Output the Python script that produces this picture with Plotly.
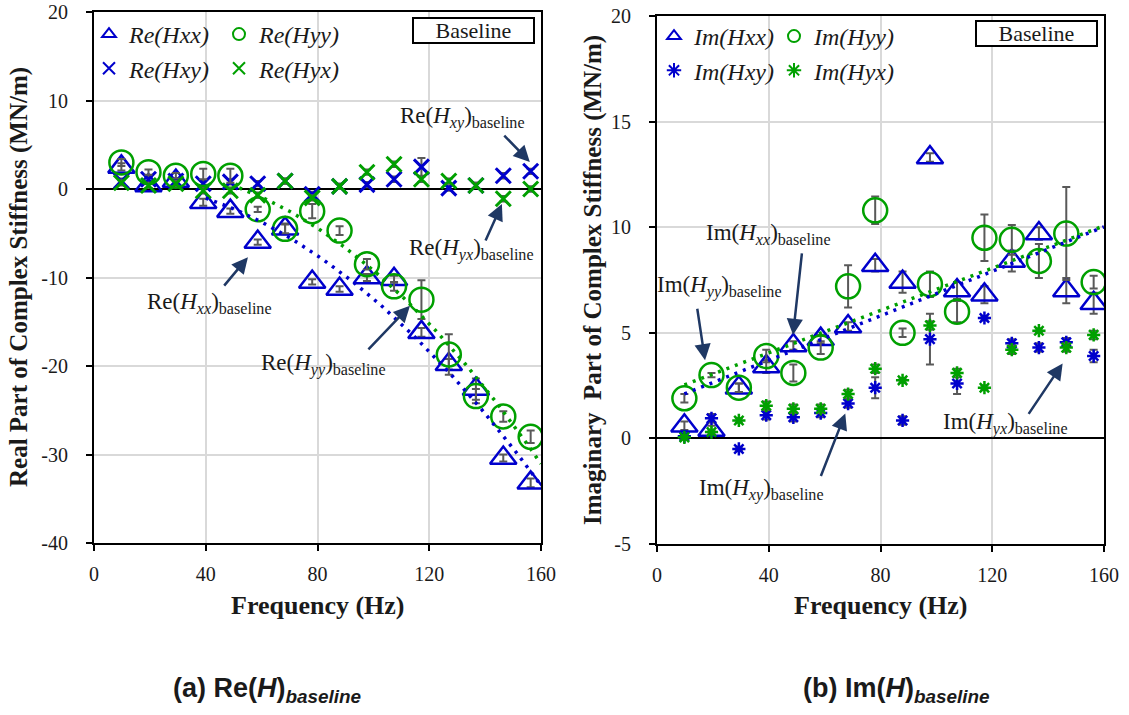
import numpy as np
import plotly.graph_objects as go

# ---------------- data ----------------
freq = [9.8, 19.5, 29.3, 39.1, 48.8, 58.6, 68.4, 78.1, 87.9, 97.7, 107.4, 117.2, 127.0, 136.7, 146.5, 156.3]

re_hxx = [2.5, 0.4, 0.9, -1.5, -2.5, -6.0, -4.5, -10.5, -11.3, -10.0, -10.2, -16.2, -19.8, -22.6, -30.4, -33.2]
re_hyy = [3.0, 1.9, 1.5, 1.7, 1.5, -2.3, -4.5, -2.5, -4.7, -8.5, -11.0, -12.5, -18.7, -23.4, -25.7, -28.0]
re_hxy = [0.9, 1.1, 0.9, 0.6, 0.8, 0.6, 0.9, -0.6, 0.3, 0.5, 1.1, 2.5, 0.1, 0.4, 1.5, 2.0]
re_hyx = [0.7, 0.4, 0.6, -0.2, -0.2, -0.7, 0.9, -1.0, 0.3, 1.9, 2.8, 1.1, 0.9, 0.4, -1.1, 0.0]

re_hxx_err = [0.4, 0.3, 0.3, 0.4, 0.3, 0.3, 0.6, 0.3, 0.3, 0.4, 0.4, 0.5, 0.6, 1.2, 0.4, 0.5]
re_hyy_err = [0.4, 0.3, 0.3, 0.6, 0.8, 0.3, 0.5, 0.8, 0.5, 0.6, 0.5, 2.2, 2.3, 0.8, 0.6, 0.7]
re_hxy_err = [0.3, 0.3, 0.3, 0.3, 0.3, 0.3, 0.3, 0.3, 0.3, 0.3, 0.3, 1.0, 0.3, 0.3, 0.3, 0.3]
re_hyx_err = [0.3, 0.3, 0.3, 0.3, 0.3, 0.3, 0.3, 0.3, 0.3, 0.3, 0.3, 0.3, 0.3, 0.3, 0.3, 0.3]

im_hxx = [0.6, 0.4, 2.4, 3.4, 4.4, 4.7, 5.3, 8.2, 7.4, 13.3, 7.0, 6.8, 8.4, 9.7, 7.0, 6.4]
im_hyy = [1.9, 3.0, 2.4, 3.9, 3.1, 4.3, 7.2, 10.8, 5.0, 7.3, 6.0, 9.5, 9.4, 8.4, 9.7, 7.4]
im_hxy = [0.1, 0.95, -0.5, 1.1, 1.0, 1.2, 1.65, 2.4, 0.85, 4.7, 2.6, 5.7, 4.5, 4.3, 4.55, 3.9]
im_hyx = [0.05, 0.3, 0.85, 1.55, 1.4, 1.4, 2.1, 3.3, 2.75, 5.35, 3.1, 2.4, 4.2, 5.1, 4.3, 4.9]

im_hxx_err = [0.2, 0.2, 0.2, 0.3, 0.2, 0.2, 0.2, 0.3, 0.5, 0.2, 0.4, 0.4, 0.5, 0.3, 0.6, 0.5]
im_hyy_err = [0.2, 0.1, 0.2, 0.3, 0.4, 0.3, 1.0, 0.65, 0.2, 0.6, 0.5, 1.1, 0.7, 0.8, 2.2, 0.3]
im_hxy_err = [0.1, 0.2, 0.1, 0.2, 0.2, 0.2, 0.2, 0.5, 0.2, 1.2, 0.5, 0.1, 0.2, 0.2, 0.2, 0.3]
im_hyx_err = [0.1, 0.1, 0.1, 0.2, 0.2, 0.2, 0.2, 0.2, 0.1, 0.2, 0.2, 0.1, 0.2, 0.1, 0.2, 0.2]

x_ticks = [0, 40, 80, 120, 160]
re_y_ticks = [-40, -30, -20, -10, 0, 10, 20]
im_y_ticks = [-5, 0, 5, 10, 15, 20]

# ---------------- style ----------------
BLUE = "#0000CC"
GREEN = "#00A000"
GREY = "#595959"
NAVY = "#1F3864"
SERIF = "Liberation Serif, Times New Roman, serif"
SANS = "Liberation Sans, Arial, sans-serif"

fig = go.Figure()


def series(x, y, err, name, symbol, size, color, xa, ya, legend, lw=2.5):
    fig.add_trace(go.Scatter(
        x=x, y=y, mode="markers", name=name, legend=legend,
        xaxis=xa, yaxis=ya,
        marker=dict(symbol=symbol, size=size, color=color,
                    line=dict(color=color, width=lw)),
        error_y=dict(type="data", array=err, visible=True,
                     color=GREY, thickness=2, width=4),
    ))


# left panel
series(freq, re_hxx, re_hxx_err, "<i>Re(Hxx)</i>", "triangle-up-open", 23, BLUE, "x", "y", "legend")
series(freq, re_hxy, re_hxy_err, "<i>Re(Hxy)</i>", "x-thin-open", 15, BLUE, "x", "y", "legend", 3)
series(freq, re_hyy, re_hyy_err, "<i>Re(Hyy)</i>", "circle-open", 24, GREEN, "x", "y", "legend2")
series(freq, re_hyx, re_hyx_err, "<i>Re(Hyx)</i>", "x-thin-open", 15, GREEN, "x", "y", "legend2", 3)

# right panel
series(freq, im_hxx, im_hxx_err, "<i>Im(Hxx)</i>", "triangle-up-open", 23, BLUE, "x2", "y2", "legend3")
series(freq, im_hxy, im_hxy_err, "<i>Im(Hxy)</i>", "asterisk-open", 11, BLUE, "x2", "y2", "legend3")
series(freq, im_hyy, im_hyy_err, "<i>Im(Hyy)</i>", "circle-open", 24, GREEN, "x2", "y2", "legend4")
series(freq, im_hyx, im_hyx_err, "<i>Im(Hyx)</i>", "asterisk-open", 11, GREEN, "x2", "y2", "legend4")

# trend lines computed from the data
fx = np.array(freq)


def trend(y, deg, x0, x1, color, xa, ya):
    c = np.polyfit(fx, np.array(y), deg)
    xs = np.linspace(x0, x1, 80)
    fig.add_trace(go.Scatter(x=xs, y=np.polyval(c, xs), mode="lines", showlegend=False,
                             xaxis=xa, yaxis=ya, hoverinfo="skip",
                             line=dict(color=color, width=3.5, dash="3px,6px")))


trend(re_hxx, 2, 40, 160, BLUE, "x", "y")
trend(re_hyy, 2, 52, 160, GREEN, "x", "y")
trend(im_hxx, 1, 9.8, 160, BLUE, "x2", "y2")
trend(im_hyy, 1, 9.8, 160, GREEN, "x2", "y2")

W, H = 1129, 715


def px_x(p):
    return p / W


def px_y(p):
    return 1 - p / H


axis_common = dict(
    showline=True, mirror=True, linecolor="black", linewidth=2,
    showgrid=True, gridcolor="#D9D9D9", gridwidth=2,
    ticks="outside", ticklen=6, tickwidth=2, tickcolor="black",
    tickfont=dict(family=SERIF, size=20, color="#1a1a1a"),
    automargin=False,
)

fig.update_layout(
    template="none",
    width=W, height=H, margin=dict(l=0, r=0, t=0, b=0, pad=0), autosize=False,
    paper_bgcolor="white", plot_bgcolor="white",
    xaxis=dict(domain=[px_x(94), px_x(541)], range=[0, 160], anchor="y", zeroline=False,
               tickvals=x_ticks, ticktext=[str(v) for v in x_ticks], ticklabelstandoff=6, **axis_common),
    yaxis=dict(domain=[px_y(543), px_y(12)], range=[-40, 20], anchor="x",
               zeroline=True, zerolinecolor="black", zerolinewidth=2,
               tickvals=re_y_ticks, ticktext=[str(v) for v in re_y_ticks], ticklabelstandoff=14, **axis_common),
    xaxis2=dict(domain=[px_x(657), px_x(1104)], range=[0, 160], anchor="y2", zeroline=False,
                tickvals=x_ticks, ticktext=[str(v) for v in x_ticks], ticklabelstandoff=6, **axis_common),
    yaxis2=dict(domain=[px_y(544), px_y(16)], range=[-5, 20], anchor="x2",
                zeroline=True, zerolinecolor="black", zerolinewidth=2,
                tickvals=im_y_ticks, ticktext=[str(v) for v in im_y_ticks], ticklabelstandoff=14, **axis_common),
    showlegend=True,
)

leg_common = dict(bgcolor="rgba(0,0,0,0)", borderwidth=0, xanchor="left", yanchor="top",
                  orientation="v", itemsizing="constant",
                  font=dict(family=SERIF, size=24, color="#1a1a1a"))
fig.update_layout(
    legend=dict(x=px_x(89), y=px_y(12), **leg_common),
    legend2=dict(x=px_x(219), y=px_y(12), **leg_common),
    legend3=dict(x=px_x(654), y=px_y(14), **leg_common),
    legend4=dict(x=px_x(774), y=px_y(14), **leg_common),
)

ann = []


def text_ann(x, y, xref, yref, text, size, family=SERIF, angle=0):
    ann.append(dict(x=x, y=y, xref=xref, yref=yref, text=text, showarrow=False,
                    textangle=angle, font=dict(family=family, size=size, color="#1a1a1a"),
                    xanchor="center", yanchor="middle"))


def arrow(x, y, xa, ya, ax, ay):
    ann.append(dict(x=x, y=y, xref=xa, yref=ya, ax=ax, ay=ay, text="", showarrow=True,
                    arrowhead=2, arrowsize=1.3, arrowwidth=2.5, arrowcolor=NAVY))


def label(part, sub):
    return f"{part}(<i>H</i><sub><i>{sub}</i></sub>)<sub>baseline</sub>"


# left annotations
text_ann(132, 8.1, "x", "y", label("Re", "xy"), 23)
arrow(156.0, 3.05, "x", "y", -27, -28)
text_ann(135, -6.8, "x", "y", label("Re", "yx"), 23)
arrow(146.0, -1.7, "x", "y", -17, 38)
text_ann(41.5, -12.9, "x", "y", label("Re", "xx"), 23)
arrow(55.1, -7.7, "x", "y", -25, 30)
text_ann(82, -19.8, "x", "y", label("Re", "yy"), 23)
arrow(113.1, -13.2, "x", "y", -43, 45)

# right annotations
text_ann(39.8, 9.67, "x2", "y2", label("Im", "xx"), 23)
arrow(48.7, 4.9, "x2", "y2", 9, -83)
text_ann(22.2, 7.2, "x2", "y2", label("Im", "yy"), 23)
arrow(17.2, 3.7, "x2", "y2", -8, -53)
text_ann(37.3, -2.4, "x2", "y2", label("Im", "xy"), 23)
arrow(67.4, 1.18, "x2", "y2", -25, 64)
text_ann(124.7, 0.7, "x2", "y2", label("Im", "yx"), 23)
arrow(145.2, 3.55, "x2", "y2", -35, 52)

# Baseline boxes
for cx, cy in ((473.5, 30.5), (1036, 33.5)):
    ann.append(dict(x=px_x(cx), y=px_y(cy), xref="paper", yref="paper", text="Baseline",
                    showarrow=False, font=dict(family=SERIF, size=22, color="#1a1a1a"),
                    bordercolor="black", borderwidth=2, borderpad=1, bgcolor="white",
                    width=117, height=21, xanchor="center", yanchor="middle"))

# axis titles
text_ann(px_x(19), px_y(277), "paper", "paper", "<b>Real Part of Complex Stiffness (MN/m)</b>", 25, angle=-90)
text_ann(px_x(593), px_y(280), "paper", "paper", "<b>Imaginary\u00a0 Part of Complex Stiffness (MN/m)</b>", 25, angle=-90)
text_ann(px_x(317.5), px_y(605), "paper", "paper", "<b>Frequency (Hz)</b>", 26)
text_ann(px_x(880.5), px_y(605), "paper", "paper", "<b>Frequency (Hz)</b>", 26)

# captions
text_ann(px_x(267), px_y(690), "paper", "paper",
         "<b>(a) Re(<i>H</i>)<sub><i>baseline</i></sub></b>", 27, family=SANS)
text_ann(px_x(896), px_y(690), "paper", "paper",
         "<b>(b) Im(<i>H</i>)<sub><i>baseline</i></sub></b>", 27, family=SANS)

fig.update_layout(annotations=ann)

fig.write_html("out.html")
